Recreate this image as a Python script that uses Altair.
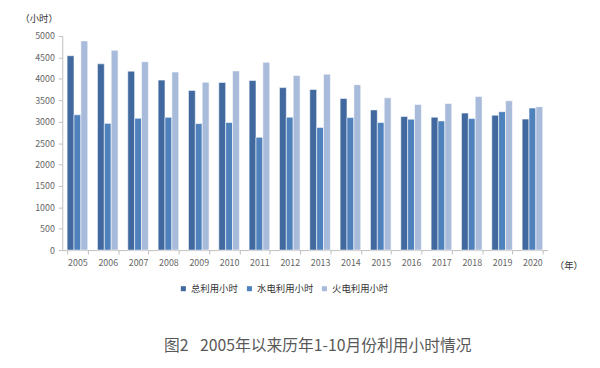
import altair as alt
import pandas as pd

years = [str(y) for y in range(2005, 2021)]
series = ["总利用小时", "水电利用小时", "火电利用小时"]
total = [4540, 4350, 4180, 3970, 3730, 3915, 3960, 3795, 3750, 3540, 3275, 3120, 3105, 3200, 3150, 3060]
hydro = [3160, 2960, 3080, 3100, 2955, 2980, 2635, 3105, 2865, 3095, 2980, 3058, 3018, 3072, 3233, 3318]
thermal = [4885, 4665, 4400, 4160, 3918, 4186, 4386, 4078, 4109, 3863, 3556, 3402, 3425, 3587, 3487, 3350]
colors = ["#41699F", "#4F81BD", "#A9BBDA"]

rows = []
for i, y in enumerate(years):
    for s, vals in zip(series, [total, hydro, thermal]):
        rows.append({"year": y, "series": s, "value": vals[i]})
df = pd.DataFrame(rows)

font = "Noto Sans CJK SC"

chart = alt.Chart(df).mark_bar(
    stroke="#ffffff", strokeWidth=0.8, strokeOpacity=0.7
).encode(
    x=alt.X("year:N", sort=years,
            scale=alt.Scale(paddingInner=0.32, paddingOuter=0.16),
            axis=alt.Axis(title="（年）", labelAngle=0, tickBand="extent",
                          titleX=513, titleY=16, titleAngle=0,
                          titleBaseline="middle", titleAlign="center",
                          titleFontWeight="normal", titleFontSize=9.5,
                          titleColor="#333333", labelPadding=5)),
    y=alt.Y("value:Q", scale=alt.Scale(domain=[0, 5000], nice=False),
            axis=alt.Axis(title="（小时）", values=list(range(0, 5001, 500)),
                          format="d",
                          grid=False, titleAngle=0, titleX=-24, titleY=-18,
                          titleAlign="center", titleBaseline="middle",
                          titleFontWeight="normal", titleFontSize=9.5,
                          titleColor="#333333", labelPadding=4)),
    xOffset=alt.XOffset("series:N", sort=series,
                        scale=alt.Scale(paddingInner=0, paddingOuter=0)),
    color=alt.Color("series:N", sort=series,
                    scale=alt.Scale(domain=series, range=colors),
                    legend=alt.Legend(title=None, orient="none", legendX=118,
                                      legendY=251, direction="horizontal",
                                      columns=3, symbolType="square",
                                      symbolSize=26, symbolStrokeWidth=0,
                                      labelFontSize=9.5, labelColor="#333333",
                                      columnPadding=6, labelOffset=3)),
).properties(
    width=492, height=217,
    autosize=alt.AutoSizeParams(type="none"),
    padding={"left": 55, "top": 26, "right": 45, "bottom": 109},
    title=alt.TitleParams("图2\u2002 2005年以来历年1-10月份利用小时情况", orient="bottom",
                          offset=45, fontSize=16, fontWeight="normal",
                          color="#595959", font=font, dx=13),
).configure_axis(
    labelFont=font, titleFont=font, labelFontSize=9, labelColor="#666666",
    domainColor="#BFBFBF", tickColor="#BFBFBF", tickSize=4,
).configure_legend(
    labelFont=font,
).configure_view(stroke=None)

chart.save("out.html", embed_options={"renderer": "svg", "actions": False})
